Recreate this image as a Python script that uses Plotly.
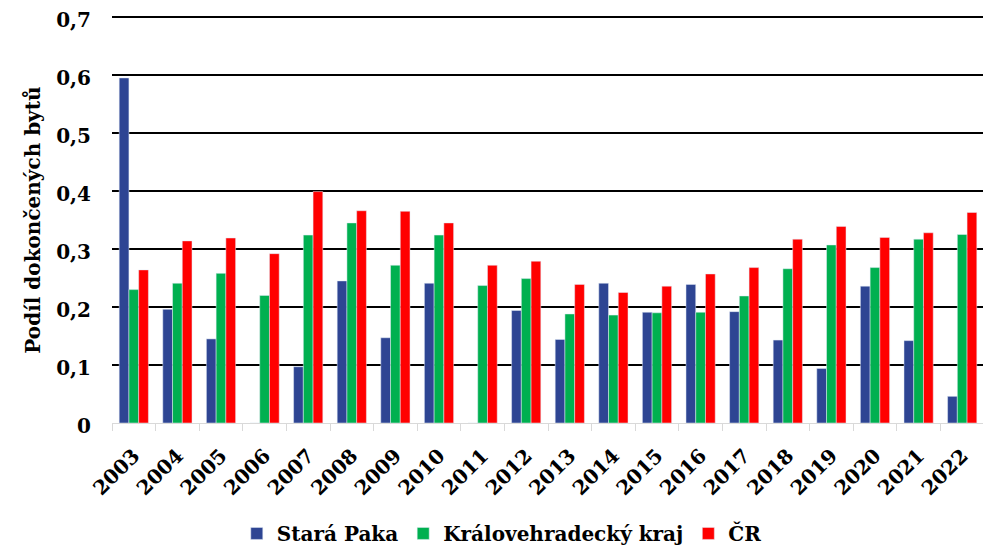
import plotly.graph_objects as go

# data
years = [str(y) for y in range(2003, 2023)]

stara_paka = [0.595, 0.196, 0.145, 0.0, 0.097, 0.245, 0.147, 0.241, 0.0, 0.194,
              0.144, 0.241, 0.191, 0.239, 0.192, 0.143, 0.094, 0.236, 0.142, 0.046]
kralovehradecky = [0.230, 0.241, 0.258, 0.220, 0.324, 0.345, 0.272, 0.324, 0.237, 0.249,
                   0.188, 0.186, 0.190, 0.191, 0.219, 0.266, 0.307, 0.268, 0.317, 0.325]
cr = [0.264, 0.314, 0.319, 0.292, 0.399, 0.366, 0.365, 0.345, 0.272, 0.279,
      0.239, 0.225, 0.236, 0.257, 0.268, 0.317, 0.339, 0.320, 0.328, 0.363]

y_ticks = [0, 0.1, 0.2, 0.3, 0.4, 0.5, 0.6, 0.7]
y_labels = ["0", "0,1", "0,2", "0,3", "0,4", "0,5", "0,6", "0,7"]

FONT = "DejaVu Serif"

fig = go.Figure()
fig.add_trace(go.Bar(x=years, y=stara_paka, name="Stará Paka",
                     marker=dict(color="#2E4593")))
fig.add_trace(go.Bar(x=years, y=kralovehradecky, name="Královehradecký kraj",
                     marker=dict(color="#00B050")))
fig.add_trace(go.Bar(x=years, y=cr, name="ČR",
                     marker=dict(color="#FF0000")))

# page body has an 8px default margin, so the figure is 8px smaller than the window
fig.update_layout(
    width=983, height=540,
    margin=dict(l=104, r=7, t=6, b=125, autoexpand=False),
    paper_bgcolor="white", plot_bgcolor="white",
    barmode="group", bargap=0.33, bargroupgap=0,
    font=dict(family=FONT, color="black", weight="bold"),
    showlegend=True,
    legend=dict(orientation="h", x=0.447, xanchor="center", y=-0.27, yanchor="middle",
                font=dict(size=20, family=FONT, weight="bold"),
                itemwidth=30, tracegroupgap=0),
)

fig.update_xaxes(
    type="category", tickangle=-45, automargin=False,
    tickfont=dict(size=20, family=FONT, weight="bold"),
    showline=True, linecolor="#D9D9D9", linewidth=1,
    ticks="outside", tickson="boundaries", ticklen=7, tickcolor="#D9D9D9",
    ticklabelstandoff=12,
    showgrid=False,
)

fig.update_yaxes(
    range=[0, 0.7052], tickvals=y_ticks, ticktext=y_labels, automargin=False,
    tickfont=dict(size=20, family=FONT, weight="bold"),
    ticklabeloverflow="allow", ticklabelshift=3,
    showgrid=True, gridcolor="black", gridwidth=1.5,
    zeroline=False, showline=False, ticks="",
    ticklabelstandoff=20,
)

# y-axis title placed as a rotated annotation, centred on the bars' area
fig.add_annotation(
    text="Podíl dokončených bytů", textangle=-90,
    xref="paper", yref="paper", x=-0.09, y=0.496,
    xanchor="center", yanchor="middle", showarrow=False,
    font=dict(size=20, family=FONT, weight="bold", color="black"),
)

fig.write_html("out.html")
